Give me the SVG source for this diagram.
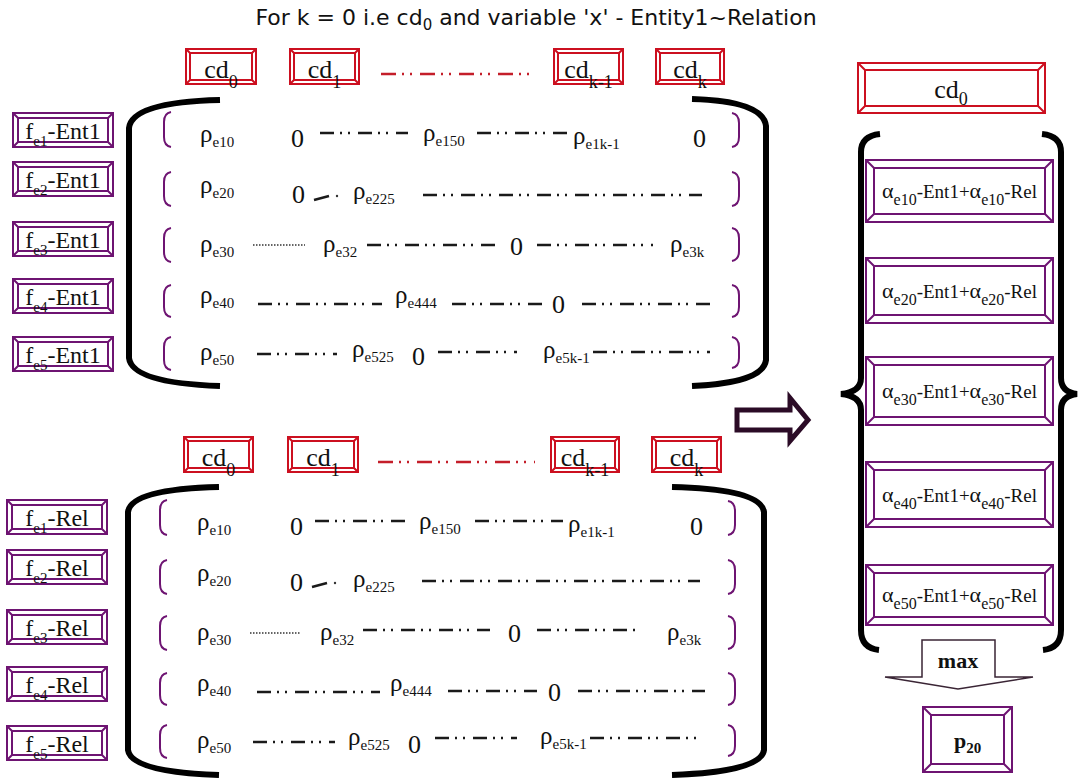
<svg xmlns="http://www.w3.org/2000/svg" width="1079" height="778" viewBox="0 0 1079 778">
<style>
.sf{font-family:"Liberation Serif","Times New Roman",serif;fill:#111}
.rbox rect,.rbox path{fill:none;stroke:#cc1020;stroke-width:2}
.pbox rect,.pbox path{fill:none;stroke:#6e1472;stroke-width:2}
.lbl{font-family:"Liberation Serif","Times New Roman",serif;font-size:24px;text-anchor:middle;fill:#111}
.ls{font-size:15px}
.cdt{font-family:"Liberation Serif","Times New Roman",serif;font-size:26px;text-anchor:middle;fill:#111}
.cds{font-size:18px}
.at{font-family:"Liberation Serif","Times New Roman",serif;font-size:19px;text-anchor:middle;fill:#111}
.ag{font-size:22px}
.as{font-size:16px}
.r{font-family:"Liberation Serif","Times New Roman",serif;font-size:25px;fill:#111}
.s{font-size:15px}
.z{font-family:"Liberation Serif","Times New Roman",serif;font-size:26px;fill:#111}
.dd{stroke:#1a1a1a;stroke-width:2.5;stroke-dasharray:14 6 2 6 2 8;fill:none}
.dt{stroke:#333;stroke-width:1.6;stroke-dasharray:1.5 1.5;fill:none}
.rd{stroke:#c41e2a;stroke-width:2.5;stroke-dasharray:15 6 2 6 2 8;fill:none}
.big{fill:none;stroke:#000;stroke-width:6}
.sb{fill:none;stroke:#6e1472;stroke-width:2}
.title{font-family:"DejaVu Sans",sans-serif;font-size:22px;fill:#111;text-anchor:middle}
</style>
<rect width="1079" height="778" fill="#fff"/>
<text class="title" x="536" y="25">For k = 0 i.e cd<tspan font-size="15" dy="5">0</tspan><tspan dy="-5"> and variable 'x' - Entity1~Relation</tspan></text>

<!-- Top matrix: Entity1 -->
<g id="cd-row-ent1">
<g id="cd0-ent1" class="rbox" transform="translate(186,49)"><rect width="70" height="35"/><rect x="4" y="4" width="62" height="27"/><path d="M0,0l4,4M70,0l-4,4M0,35l4,-4M70,35l-4,-4"/><text class="cdt" x="35" y="29">cd<tspan class="cds" dy="10">0</tspan></text></g>
<g id="cd1-ent1" class="rbox" transform="translate(290,49)"><rect width="69" height="35"/><rect x="4" y="4" width="61" height="27"/><path d="M0,0l4,4M69,0l-4,4M0,35l4,-4M69,35l-4,-4"/><text class="cdt" x="34.5" y="29">cd<tspan class="cds" dy="10">1</tspan></text></g>
<line class="rd" x1="381" y1="74" x2="537" y2="74"/>
<g id="cdk1-ent1" class="rbox" transform="translate(554,49)"><rect width="69" height="35"/><rect x="4" y="4" width="61" height="27"/><path d="M0,0l4,4M69,0l-4,4M0,35l4,-4M69,35l-4,-4"/><text class="cdt" x="34.5" y="29">cd<tspan class="cds" dy="10">k-1</tspan></text></g>
<g id="cdk-ent1" class="rbox" transform="translate(656,49)"><rect width="68" height="35"/><rect x="4" y="4" width="60" height="27"/><path d="M0,0l4,4M68,0l-4,4M0,35l4,-4M68,35l-4,-4"/><text class="cdt" x="34" y="29">cd<tspan class="cds" dy="10">k</tspan></text></g>
</g>

<g id="labels-ent1">
<g id="fe1-ent1" class="pbox" transform="translate(13,113)"><rect width="100" height="34"/><rect x="5" y="5" width="90" height="24"/><path d="M0,0l5,5M100,0l-5,5M0,34l5,-5M100,34l-5,-5"/><text class="lbl" x="50" y="26">f<tspan class="ls" dy="7">e1</tspan><tspan dy="-7">-Ent1</tspan></text></g>
<g id="fe2-ent1" class="pbox" transform="translate(13,162)"><rect width="100" height="34"/><rect x="5" y="5" width="90" height="24"/><path d="M0,0l5,5M100,0l-5,5M0,34l5,-5M100,34l-5,-5"/><text class="lbl" x="50" y="26">f<tspan class="ls" dy="7">e2</tspan><tspan dy="-7">-Ent1</tspan></text></g>
<g id="fe3-ent1" class="pbox" transform="translate(13,222)"><rect width="100" height="34"/><rect x="5" y="5" width="90" height="24"/><path d="M0,0l5,5M100,0l-5,5M0,34l5,-5M100,34l-5,-5"/><text class="lbl" x="50" y="26">f<tspan class="ls" dy="7">e3</tspan><tspan dy="-7">-Ent1</tspan></text></g>
<g id="fe4-ent1" class="pbox" transform="translate(13,279)"><rect width="100" height="34"/><rect x="5" y="5" width="90" height="24"/><path d="M0,0l5,5M100,0l-5,5M0,34l5,-5M100,34l-5,-5"/><text class="lbl" x="50" y="26">f<tspan class="ls" dy="7">e4</tspan><tspan dy="-7">-Ent1</tspan></text></g>
<g id="fe5-ent1" class="pbox" transform="translate(13,337)"><rect width="100" height="34"/><rect x="5" y="5" width="90" height="24"/><path d="M0,0l5,5M100,0l-5,5M0,34l5,-5M100,34l-5,-5"/><text class="lbl" x="50" y="26">f<tspan class="ls" dy="7">e5</tspan><tspan dy="-7">-Ent1</tspan></text></g>
</g>

<g id="bracket-ent1">
<path class="big" d="M220,100 Q132,102 129,128 V358 Q132,383 220,386"/>
<path class="big" d="M692,99 Q763,101 766,126 V360 Q763,383 692,386"/>
</g>

<g id="matrix-ent1">
<path class="sb" d="M171,112 C165,113 164,117 164,122 V137 C164,142 165,146 171,147 M171,172 C165,173 164,177 164,182 V196 C164,201 165,205 171,206 M171,228 C165,229 164,233 164,238 V252 C164,257 165,261 171,262 M171,285 C165,286 164,290 164,295 V307 C164,312 165,316 171,317 M171,337 C165,338 164,342 164,347 V360 C164,365 165,369 171,370"/>
<path class="sb" d="M732,113 C738,114 739,118 739,123 V137 C739,142 738,146 732,147 M732,172 C738,173 739,177 739,182 V196 C739,201 738,205 732,206 M732,228 C738,229 739,233 739,238 V251 C739,256 738,260 732,261 M732,285 C738,286 739,290 739,295 V307 C739,312 738,316 732,317 M732,337 C738,338 739,342 739,347 V358 C739,363 738,367 732,368"/>
<g id="row1">
<text class="r" x="200" y="142">ρ<tspan class="s" dy="5">e10</tspan></text>
<text class="z" x="291" y="147">0</text>
<line class="dd" x1="320" y1="133" x2="408" y2="133"/>
<text class="r" x="423" y="141">ρ<tspan class="s" dy="5">e150</tspan></text>
<line class="dd" x1="477" y1="133" x2="567" y2="133"/>
<text class="r" x="573" y="144">ρ<tspan class="s" dy="5">e1k-1</tspan></text>
<text class="z" x="693" y="147">0</text>
</g>
<g id="row2">
<text class="r" x="200" y="193">ρ<tspan class="s" dy="5">e20</tspan></text>
<text class="z" x="292" y="203">0</text>
<line x1="314" y1="200" x2="329" y2="196" stroke="#1a1a1a" stroke-width="2.5"/>
<circle cx="337" cy="196" r="1.2" fill="#333"/>
<text class="r" x="353" y="199">ρ<tspan class="s" dy="5">e225</tspan></text>
<line class="dd" x1="423" y1="195" x2="702" y2="195"/>
</g>
<g id="row3">
<text class="r" x="200" y="252">ρ<tspan class="s" dy="5">e30</tspan></text>
<line class="dt" x1="253" y1="245" x2="305" y2="245"/>
<text class="r" x="323" y="252">ρ<tspan class="s" dy="5">e32</tspan></text>
<line class="dd" x1="367" y1="245" x2="497" y2="245"/>
<text class="z" x="510" y="255">0</text>
<line class="dd" x1="537" y1="245" x2="653" y2="245"/>
<text class="r" x="670" y="252">ρ<tspan class="s" dy="5">e3k</tspan></text>
</g>
<g id="row4">
<text class="r" x="200" y="303">ρ<tspan class="s" dy="5">e40</tspan></text>
<line class="dd" x1="258" y1="304" x2="382" y2="304"/>
<text class="r" x="395" y="303">ρ<tspan class="s" dy="5">e444</tspan></text>
<line class="dd" x1="452" y1="304" x2="543" y2="304"/>
<text class="z" x="552" y="313">0</text>
<line class="dd" x1="582" y1="304" x2="710" y2="304"/>
</g>
<g id="row5">
<text class="r" x="200" y="360">ρ<tspan class="s" dy="5">e50</tspan></text>
<line class="dd" x1="257" y1="354" x2="337" y2="354"/>
<text class="r" x="352" y="357">ρ<tspan class="s" dy="5">e525</tspan></text>
<text class="z" x="412" y="365">0</text>
<line class="dd" x1="438" y1="352" x2="517" y2="352"/>
<text class="r" x="543" y="358">ρ<tspan class="s" dy="5">e5k-1</tspan></text>
<line class="dd" x1="593" y1="352" x2="710" y2="352"/>
</g>
</g>

<!-- Bottom matrix: Relation -->
<g id="cd-row-rel">
<g id="cd0-rel" class="rbox" transform="translate(184,437)"><rect width="69" height="35"/><rect x="4" y="4" width="61" height="27"/><path d="M0,0l4,4M69,0l-4,4M0,35l4,-4M69,35l-4,-4"/><text class="cdt" x="34.5" y="29">cd<tspan class="cds" dy="10">0</tspan></text></g>
<g id="cd1-rel" class="rbox" transform="translate(288,437)"><rect width="70" height="35"/><rect x="4" y="4" width="62" height="27"/><path d="M0,0l4,4M70,0l-4,4M0,35l4,-4M70,35l-4,-4"/><text class="cdt" x="35" y="29">cd<tspan class="cds" dy="10">1</tspan></text></g>
<line class="rd" x1="378" y1="462" x2="535" y2="462"/>
<g id="cdk1-rel" class="rbox" transform="translate(551,437)"><rect width="68" height="35"/><rect x="4" y="4" width="60" height="27"/><path d="M0,0l4,4M68,0l-4,4M0,35l4,-4M68,35l-4,-4"/><text class="cdt" x="34" y="29">cd<tspan class="cds" dy="10">k-1</tspan></text></g>
<g id="cdk-rel" class="rbox" transform="translate(652,437)"><rect width="69" height="35"/><rect x="4" y="4" width="61" height="27"/><path d="M0,0l4,4M69,0l-4,4M0,35l4,-4M69,35l-4,-4"/><text class="cdt" x="34.5" y="29">cd<tspan class="cds" dy="10">k</tspan></text></g>
</g>

<g id="labels-rel">
<g id="fe1-rel" class="pbox" transform="translate(7,500)"><rect width="100" height="34"/><rect x="5" y="5" width="90" height="24"/><path d="M0,0l5,5M100,0l-5,5M0,34l5,-5M100,34l-5,-5"/><text class="lbl" x="50" y="26">f<tspan class="ls" dy="7">e1</tspan><tspan dy="-7">-Rel</tspan></text></g>
<g id="fe2-rel" class="pbox" transform="translate(7,550)"><rect width="100" height="34"/><rect x="5" y="5" width="90" height="24"/><path d="M0,0l5,5M100,0l-5,5M0,34l5,-5M100,34l-5,-5"/><text class="lbl" x="50" y="26">f<tspan class="ls" dy="7">e2</tspan><tspan dy="-7">-Rel</tspan></text></g>
<g id="fe3-rel" class="pbox" transform="translate(7,610)"><rect width="100" height="34"/><rect x="5" y="5" width="90" height="24"/><path d="M0,0l5,5M100,0l-5,5M0,34l5,-5M100,34l-5,-5"/><text class="lbl" x="50" y="26">f<tspan class="ls" dy="7">e3</tspan><tspan dy="-7">-Rel</tspan></text></g>
<g id="fe4-rel" class="pbox" transform="translate(7,667)"><rect width="100" height="34"/><rect x="5" y="5" width="90" height="24"/><path d="M0,0l5,5M100,0l-5,5M0,34l5,-5M100,34l-5,-5"/><text class="lbl" x="50" y="26">f<tspan class="ls" dy="7">e4</tspan><tspan dy="-7">-Rel</tspan></text></g>
<g id="fe5-rel" class="pbox" transform="translate(7,726)"><rect width="100" height="34"/><rect x="5" y="5" width="90" height="24"/><path d="M0,0l5,5M100,0l-5,5M0,34l5,-5M100,34l-5,-5"/><text class="lbl" x="50" y="26">f<tspan class="ls" dy="7">e5</tspan><tspan dy="-7">-Rel</tspan></text></g>
</g>

<g id="bracket-rel">
<path class="big" d="M219,487 Q131,489 128,512 V750 Q131,772 219,775"/>
<path class="big" d="M672,487 Q761,489 764,512 V750 Q761,772 672,775"/>
</g>

<g id="matrix-rel" transform="translate(-4,388)">
<path class="sb" d="M171,112 C165,113 164,117 164,122 V137 C164,142 165,146 171,147 M171,172 C165,173 164,177 164,182 V196 C164,201 165,205 171,206 M171,228 C165,229 164,233 164,238 V252 C164,257 165,261 171,262 M171,285 C165,286 164,290 164,295 V307 C164,312 165,316 171,317 M171,337 C165,338 164,342 164,347 V360 C164,365 165,369 171,370"/>
<path class="sb" d="M732,113 C738,114 739,118 739,123 V137 C739,142 738,146 732,147 M732,172 C738,173 739,177 739,182 V196 C739,201 738,205 732,206 M732,228 C738,229 739,233 739,238 V251 C739,256 738,260 732,261 M732,285 C738,286 739,290 739,295 V307 C739,312 738,316 732,317 M732,337 C738,338 739,342 739,347 V358 C739,363 738,367 732,368"/>
<g id="rrow1">
<text class="r" x="201" y="142">ρ<tspan class="s" dy="5">e10</tspan></text>
<text class="z" x="294" y="147">0</text>
<line class="dd" x1="319" y1="133" x2="409" y2="133"/>
<text class="r" x="423" y="141">ρ<tspan class="s" dy="5">e150</tspan></text>
<line class="dd" x1="479" y1="133" x2="567" y2="133"/>
<text class="r" x="572" y="144">ρ<tspan class="s" dy="5">e1k-1</tspan></text>
<text class="z" x="694" y="147">0</text>
</g>
<g id="rrow2">
<text class="r" x="201" y="193">ρ<tspan class="s" dy="5">e20</tspan></text>
<text class="z" x="294" y="203">0</text>
<line x1="316" y1="199" x2="331" y2="195" stroke="#1a1a1a" stroke-width="2.5"/>
<circle cx="339" cy="195" r="1.2" fill="#333"/>
<text class="r" x="357" y="199">ρ<tspan class="s" dy="5">e225</tspan></text>
<line class="dd" x1="426" y1="193" x2="704" y2="193"/>
</g>
<g id="rrow3">
<text class="r" x="201" y="252">ρ<tspan class="s" dy="5">e30</tspan></text>
<line class="dt" x1="254" y1="245" x2="304" y2="245"/>
<text class="r" x="324" y="252">ρ<tspan class="s" dy="5">e32</tspan></text>
<line class="dd" x1="367" y1="242" x2="494" y2="242"/>
<text class="z" x="512" y="254">0</text>
<line class="dd" x1="541" y1="242" x2="642" y2="242"/>
<text class="r" x="671" y="252">ρ<tspan class="s" dy="5">e3k</tspan></text>
</g>
<g id="rrow4">
<text class="r" x="201" y="303">ρ<tspan class="s" dy="5">e40</tspan></text>
<line class="dd" x1="261" y1="304" x2="384" y2="304"/>
<text class="r" x="394" y="303">ρ<tspan class="s" dy="5">e444</tspan></text>
<line class="dd" x1="452" y1="303" x2="541" y2="303"/>
<text class="z" x="552" y="313">0</text>
<line class="dd" x1="582" y1="303" x2="709" y2="303"/>
</g>
<g id="rrow5">
<text class="r" x="201" y="360">ρ<tspan class="s" dy="5">e50</tspan></text>
<line class="dd" x1="257" y1="354" x2="339" y2="354"/>
<text class="r" x="352" y="357">ρ<tspan class="s" dy="5">e525</tspan></text>
<text class="z" x="412" y="365">0</text>
<line class="dd" x1="439" y1="350" x2="521" y2="350"/>
<text class="r" x="544" y="356">ρ<tspan class="s" dy="5">e5k-1</tspan></text>
<line class="dd" x1="594" y1="350" x2="706" y2="350"/>
</g>
</g>

<!-- Right side -->
<g id="cd0-result" class="rbox" transform="translate(858,63)"><rect width="187" height="50"/><rect x="7" y="7" width="173" height="36"/><path d="M0,0l7,7M187,0l-7,7M0,50l7,-7M187,50l-7,-7"/><text class="cdt" x="93" y="35">cd<tspan class="cds" dy="7">0</tspan></text></g>

<g id="brace">
<path class="big" d="M880,134 Q861,136 861,152 V378 Q861,392 841,394 Q861,396 861,410 V630 Q861,648 879,650"/>
<path class="big" d="M1042,134 Q1061,136 1061,152 V378 Q1061,392 1077,394 Q1061,396 1061,410 V630 Q1061,648 1043,650"/>
</g>

<g id="alpha1" class="pbox" transform="translate(866,160)"><rect width="187" height="62"/><rect x="8" y="8" width="171" height="46"/><path d="M0,0l8,8M187,0l-8,8M0,62l8,-8M187,62l-8,-8"/><text class="at" x="93.5" y="38"><tspan class="ag">α</tspan><tspan class="as" dy="7">e10</tspan><tspan dy="-7">-Ent1+</tspan><tspan class="ag">α</tspan><tspan class="as" dy="7">e10</tspan><tspan dy="-7">-Rel</tspan></text></g>
<g id="alpha2" class="pbox" transform="translate(866,258)"><rect width="187" height="65"/><rect x="8" y="8" width="171" height="49"/><path d="M0,0l8,8M187,0l-8,8M0,65l8,-8M187,65l-8,-8"/><text class="at" x="93.5" y="39.5"><tspan class="ag">α</tspan><tspan class="as" dy="7">e20</tspan><tspan dy="-7">-Ent1+</tspan><tspan class="ag">α</tspan><tspan class="as" dy="7">e20</tspan><tspan dy="-7">-Rel</tspan></text></g>
<g id="alpha3" class="pbox" transform="translate(866,357)"><rect width="187" height="68"/><rect x="8" y="8" width="171" height="52"/><path d="M0,0l8,8M187,0l-8,8M0,68l8,-8M187,68l-8,-8"/><text class="at" x="93.5" y="41"><tspan class="ag">α</tspan><tspan class="as" dy="7">e30</tspan><tspan dy="-7">-Ent1+</tspan><tspan class="ag">α</tspan><tspan class="as" dy="7">e30</tspan><tspan dy="-7">-Rel</tspan></text></g>
<g id="alpha4" class="pbox" transform="translate(866,462)"><rect width="187" height="65"/><rect x="8" y="8" width="171" height="49"/><path d="M0,0l8,8M187,0l-8,8M0,65l8,-8M187,65l-8,-8"/><text class="at" x="93.5" y="39.5"><tspan class="ag">α</tspan><tspan class="as" dy="7">e40</tspan><tspan dy="-7">-Ent1+</tspan><tspan class="ag">α</tspan><tspan class="as" dy="7">e40</tspan><tspan dy="-7">-Rel</tspan></text></g>
<g id="alpha5" class="pbox" transform="translate(866,565)"><rect width="187" height="60"/><rect x="8" y="8" width="171" height="44"/><path d="M0,0l8,8M187,0l-8,8M0,60l8,-8M187,60l-8,-8"/><text class="at" x="93.5" y="37"><tspan class="ag">α</tspan><tspan class="as" dy="7">e50</tspan><tspan dy="-7">-Ent1+</tspan><tspan class="ag">α</tspan><tspan class="as" dy="7">e50</tspan><tspan dy="-7">-Rel</tspan></text></g>

<g id="p20" class="pbox" transform="translate(923,707)"><rect width="89" height="65"/><rect x="8" y="8" width="73" height="49"/><path d="M0,0l8,8M89,0l-8,8M0,65l8,-8M89,65l-8,-8"/><text class="sf" x="44.5" y="41" font-size="22" font-weight="bold" text-anchor="middle">p<tspan font-size="15" dy="5">20</tspan></text></g>

<g id="connectors">
<polygon points="737,410 790,410 790,398 808,420 790,441 790,430 737,430" fill="#fff" stroke="#2b0b26" stroke-width="5" stroke-linejoin="miter"/>
<g id="max-arrow">
<polygon points="922,640 995,640 995,677 1033,677 958,689 885,677 922,677" fill="#fff" stroke="#3a2535" stroke-width="1.5"/>
<text class="sf" x="958" y="668" font-size="22" font-weight="bold" text-anchor="middle">max</text>
</g>
</g>
</svg>
